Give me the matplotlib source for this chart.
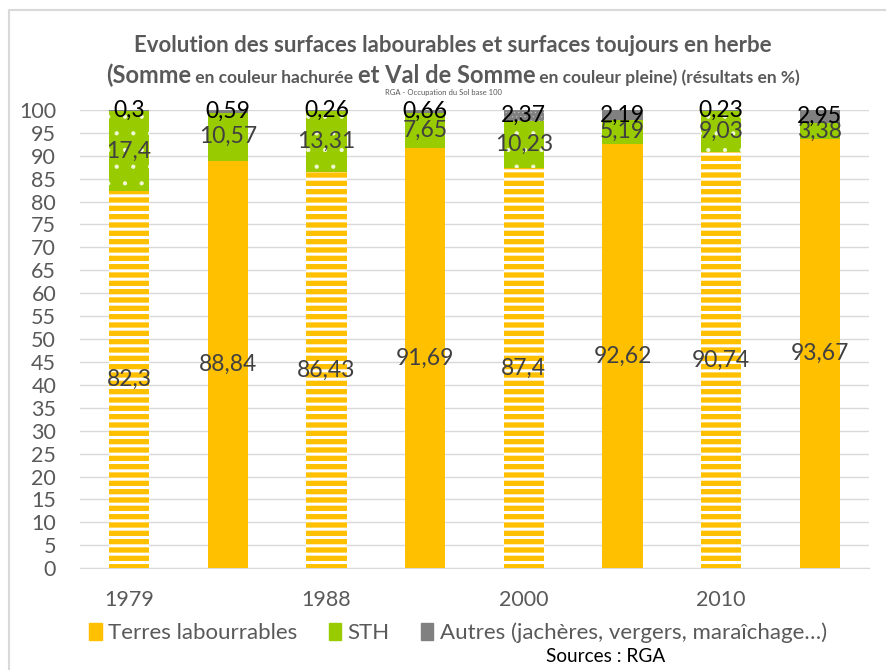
import matplotlib
matplotlib.use("Agg")
import matplotlib.pyplot as plt
from matplotlib.patches import Patch
from matplotlib.lines import Line2D
import numpy as np

plt.rcParams['font.family'] = ['Lato', 'DejaVu Sans']

# data (8 bars: Somme hatched, Val de Somme plain)
categories = ['1979', '', '1988', '', '2000', '', '2010', '']
terres = [82.3, 88.84, 86.43, 91.69, 87.4, 92.62, 90.74, 93.67]
sth = [17.4, 10.57, 13.31, 7.65, 10.23, 5.19, 9.03, 3.38]
autres = [0.3, 0.59, 0.26, 0.66, 2.37, 2.19, 0.23, 2.95]
hatched = [True, False, True, False, True, False, True, False]

YELLOW = '#FFC000'
GREEN = '#99CC00'
GREY = '#808080'
TXT = '#595959'

fig = plt.figure(figsize=(8.86, 6.70), dpi=100)
ax = fig.add_axes([0.090, 0.152, 0.891, 0.684])

x = np.arange(len(categories))
w = 0.41


def fmt(v):
    return ('%g' % v).replace('.', ',')


bottom = np.zeros(len(x))
# (values, colour, hatch, hatch colour, hatch width, label colour)
series = [(terres, YELLOW, '--', 'white', 2.2, '#404040'),
          (sth, GREEN, '.', '#F0F8D8', 0.6, '#404040'),
          (autres, GREY, '....', '#BFBFBF', 0.4, 'black')]
for vals, col, hat, hcol, hlw, lblcol in series:
    vals = np.array(vals)
    for i in range(len(x)):
        if hatched[i]:
            plt.rcParams['hatch.linewidth'] = hlw
            ax.bar(x[i], vals[i], w, bottom=bottom[i], color=col,
                   edgecolor=hcol, linewidth=0, hatch=hat, zorder=3)
        else:
            ax.bar(x[i], vals[i], w, bottom=bottom[i], color=col,
                   linewidth=0, zorder=3)
        ax.text(x[i], bottom[i] + vals[i] / 2, fmt(vals[i]), ha='center',
                va='center', fontsize=16.5, color=lblcol, zorder=5)
    bottom = bottom + vals

ax.set_xlim(-0.5, len(x) - 0.5)
ax.set_ylim(0, 100)
ax.set_yticks(np.arange(0, 101, 5))
ax.set_xticks(x)
ax.set_xticklabels(categories)
ax.tick_params(axis='both', length=0, labelsize=15.5, labelcolor=TXT)
ax.tick_params(axis='y', pad=17)
ax.tick_params(axis='x', pad=16)
ax.grid(axis='y', color='#D9D9D9', linewidth=1, zorder=0)
ax.set_axisbelow(True)
for s in ['top', 'right', 'left']:
    ax.spines[s].set_visible(False)
ax.spines['bottom'].set_color('#D9D9D9')

# title
fig.text(453 / 886, 1 - 45 / 670, 'Evolution des surfaces labourables et surfaces toujours en herbe',
         ha='center', va='center', fontsize=16, fontweight='bold', color=TXT)

parts = [('(Somme', 17), (' en couleur hachurée ', 12.5), ('et Val de Somme', 17),
         (' en couleur pleine) (résultats en %)', 12.5)]
r = fig.canvas.get_renderer()
texts = []
for s, fs in parts:
    t = fig.text(0, 1 - 83 / 670, s, ha='left', va='baseline', fontsize=fs,
                 fontweight='bold', color=TXT)
    texts.append(t)
widths = [t.get_window_extent(r).width for t in texts]
xpos = (886 - sum(widths)) / 2 + 10
for t, wd in zip(texts, widths):
    t.set_x(xpos / 886)
    xpos += wd

fig.text(0.5, 1 - 93 / 670, 'RGA - Occupation du Sol base 100', ha='center',
         va='center', fontsize=5.5, color=TXT)

handles = [Patch(color=YELLOW), Patch(color=GREEN), Patch(color=GREY)]
fig.legend(handles, ['Terres labourrables', 'STH', 'Autres (jachères, vergers, maraîchage…)'],
           loc='center', bbox_to_anchor=(458 / 886, 1 - 633 / 670), ncol=3, frameon=False,
           fontsize=16, labelcolor=TXT, handlelength=0.55, handleheight=0.8,
           handletextpad=0.3, columnspacing=1.4)

fig.text(606 / 886, 1 - 656 / 670, 'Sources : RGA', ha='center', va='center',
         fontsize=13.7, color='black')

# chart area border (only top and left visible)
fig.lines.append(Line2D([9 / 886, 9 / 886, 1.0], [0.0, 1 - 10 / 670, 1 - 10 / 670],
                        transform=fig.transFigure, color='#D9D9D9', linewidth=1.5))

fig.savefig('out.png', dpi=100)
